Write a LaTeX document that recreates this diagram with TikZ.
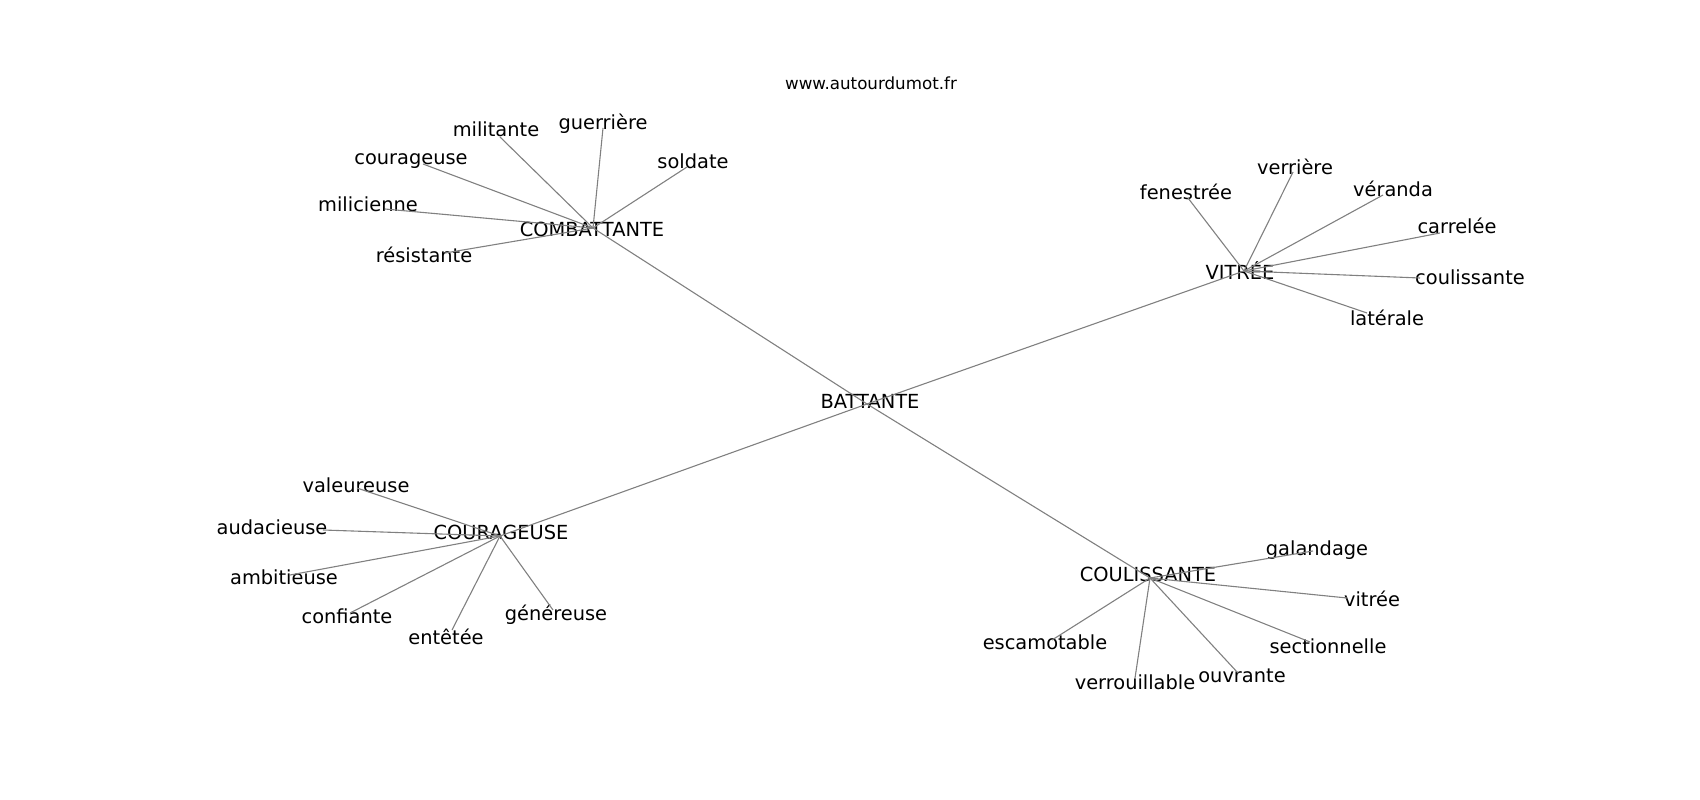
\documentclass[tikz,border=0pt]{standalone}
\usepackage{fontspec}
\setmainfont{DejaVu Sans}
\begin{document}
\begin{tikzpicture}[
    x=1pt, y=-1pt,
    word/.style={inner sep=0pt, text height=1.36em, text depth=0pt,
        font=\fontsize{19.4}{23}\selectfont},
    title/.style={inner sep=0pt, text height=1.25em, text depth=0pt,
        font=\fontsize{16.7}{20}\selectfont},
    edge/.style={draw=black!50, line width=1.1pt, -}
]
    \useasboundingbox (0,0) rectangle (1700,800);
    \node[title] (site) at (871,83) {www.autourdumot.fr};
    % hubs
    \coordinate (bat) at (867,404);
    \coordinate (com) at (593,228);
    \coordinate (vit) at (1244,271);
    \coordinate (cou) at (500,536);
    \coordinate (cls) at (1150,578);
    \node[word] (bat-t) at (870,402) {BATTANTE};
    \node[word] (com-t) at (592,230) {COMBATTANTE};
    \node[word] (vit-t) at (1240,273) {VITRÉE};
    \node[word] (cou-t) at (501,533) {COURAGEUSE};
    \node[word] (cls-t) at (1148,575) {COULISSANTE};
    % combattante
    \coordinate (c1) at (500,137);
    \coordinate (c2) at (603,128);
    \coordinate (c3) at (687,167);
    \coordinate (c4) at (423,164);
    \coordinate (c5) at (385,209);
    \coordinate (c6) at (445,253);
    \node[word] (c1-t) at (496,130) {militante};
    \node[word] (c2-t) at (603,123) {guerrière};
    \node[word] (c3-t) at (693,162) {soldate};
    \node[word] (c4-t) at (411,158) {courageuse};
    \node[word] (c5-t) at (368,205) {milicienne};
    \node[word] (c6-t) at (424,256) {résistante};
    % vitree
    \coordinate (v1) at (1188,198);
    \coordinate (v2) at (1293,172);
    \coordinate (v3) at (1383,195);
    \coordinate (v4) at (1440,233);
    \coordinate (v5) at (1420,278);
    \coordinate (v6) at (1367,313);
    \node[word] (v1-t) at (1186,193) {fenestrée};
    \node[word] (v2-t) at (1295,168) {verrière};
    \node[word] (v3-t) at (1393,190) {véranda};
    \node[word] (v4-t) at (1457,227) {carrelée};
    \node[word] (v5-t) at (1470,278) {coulissante};
    \node[word] (v6-t) at (1387,319) {latérale};
    % courageuse
    \coordinate (g1) at (357,488);
    \coordinate (g2) at (323,530);
    \coordinate (g3) at (290,575);
    \coordinate (g4) at (350,613);
    \coordinate (g5) at (452,630);
    \coordinate (g6) at (553,610);
    \node[word] (g1-t) at (356,486) {valeureuse};
    \node[word] (g2-t) at (272,528) {audacieuse};
    \node[word] (g3-t) at (284,578) {ambitieuse};
    \node[word] (g4-t) at (347,617) {confiante};
    \node[word] (g5-t) at (446,638) {entêtée};
    \node[word] (g6-t) at (556,614) {généreuse};
    % coulissante
    \coordinate (s1) at (1313,551);
    \coordinate (s2) at (1347,598);
    \coordinate (s3) at (1310,642);
    \coordinate (s4) at (1238,673);
    \coordinate (s5) at (1135,678);
    \coordinate (s6) at (1052,640);
    \node[word] (s1-t) at (1317,549) {galandage};
    \node[word] (s2-t) at (1372,600) {vitrée};
    \node[word] (s3-t) at (1328,647) {sectionnelle};
    \node[word] (s4-t) at (1242,676) {ouvrante};
    \node[word] (s5-t) at (1135,683) {verrouillable};
    \node[word] (s6-t) at (1045,643) {escamotable};
    % edges
    \foreach \h in {com, vit, cou, cls}
        \draw[edge] (bat) -- (\h);
    \foreach \i in {1,...,6} {
        \draw[edge] (com) -- (c\i);
        \draw[edge] (vit) -- (v\i);
        \draw[edge] (cou) -- (g\i);
        \draw[edge] (cls) -- (s\i);
    }
\end{tikzpicture}
\end{document}
